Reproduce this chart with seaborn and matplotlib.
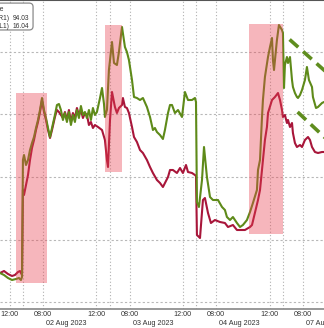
import numpy as np
import pandas as pd
import matplotlib
matplotlib.use("Agg")
import matplotlib.pyplot as plt
import seaborn as sns
from matplotlib.patches import Rectangle, FancyBboxPatch
from matplotlib import transforms

# ---------------- data (x = compressed session hours, y = index level) ----------------
green_hours = [4.78, 5.08, 5.38, 5.68, 5.98, 6.20, 6.35, 6.43, 6.50, 6.58, 6.73, 6.88, 7.03, 7.18, 7.33,
               7.48, 7.63, 7.78, 7.93, 8.08, 8.23, 8.38, 8.53, 8.68, 8.90, 9.05, 9.20, 9.35, 9.50, 9.65,
               9.80, 9.95, 10.10, 10.25, 10.40, 10.55, 10.70, 10.85, 11.00, 11.15, 11.30, 11.45, 11.60,
               11.75, 11.90, 12.05, 12.28, 12.43, 12.58, 12.65, 12.80, 12.95, 13.18, 13.33, 13.55, 13.70,
               13.93, 14.15, 14.30, 14.45, 14.68, 14.83, 15.05, 15.28, 15.50, 15.80, 16.03, 16.25, 16.40,
               16.55, 16.78, 17.00, 17.15, 17.38, 17.53, 17.68, 17.90, 18.13, 18.43, 18.65, 18.88, 19.18,
               19.40, 19.48, 19.55, 19.70, 19.93, 20.08, 20.30, 20.53, 20.75, 21.13, 21.43, 21.65, 21.80,
               22.03, 22.25, 22.55, 22.78, 23.00, 23.30, 23.53, 23.75, 24.05, 24.13, 24.28, 24.43, 24.50,
               24.65, 24.88, 25.03, 25.18, 25.25, 25.33, 25.55, 25.70, 25.93, 26.00, 26.08, 26.15, 26.30,
               26.38, 26.53, 26.68, 26.75, 26.90, 27.05, 27.13, 27.28, 27.43, 27.65, 27.80, 27.95, 28.18,
               28.25, 28.48, 28.63, 28.93, 29.08]
green_vals = [11.6, 10.8, 9.6, 8.8, 9.2, 9.6, 8.8, 10.0, 56.8, 58.8, 54.8, 56.8, 60.8, 63.6, 66.0,
              69.6, 72.8, 76.8, 81.6, 76.8, 73.6, 69.6, 66.0, 69.6, 74.8, 78.8, 79.2, 76.8, 72.8, 75.6,
              72.0, 76.0, 70.8, 74.8, 72.0, 76.8, 73.6, 78.4, 74.8, 76.0, 73.6, 76.8, 72.8,
              77.6, 74.8, 76.0, 81.6, 85.6, 79.2, 74.0, 76.8, 92.8, 104.0, 95.6, 94.8, 100.0,
              110.0, 102.0, 100.0, 96.8, 88.8, 82.0, 81.6, 80.8, 81.6, 78.0, 74.0, 68.8, 69.6,
              68.0, 66.8, 65.2, 68.8, 75.6, 78.8, 78.8, 75.6, 76.8, 74.0, 84.0, 80.8, 80.8,
              81.6, 80.0, 40.0, 38.0, 48.8, 62.0, 50.0, 42.0, 40.8, 40.8, 38.0, 36.8, 34.0,
              32.8, 34.0, 31.6, 30.0, 30.8, 32.8, 36.0, 39.6, 44.8, 52.8, 56.8, 74.0, 80.8,
              90.0, 98.0, 102.0, 105.6, 96.8, 92.8, 104.8, 110.8, 108.8, 107.6, 85.6, 94.8, 98.0,
              95.6, 98.0, 88.8, 86.0, 83.6, 82.0, 81.6, 82.8, 84.8, 88.8, 94.0, 88.8, 86.0,
              82.0, 77.6, 78.0, 79.6, 80.0]

red_hours = [4.78, 5.08, 5.38, 5.68, 5.90, 6.13, 6.28, 6.43, 6.50, 6.58, 6.73, 6.88, 7.03, 7.18, 7.33,
             7.48, 7.63, 7.78, 7.93, 8.08, 8.23, 8.38, 8.53, 8.68, 8.90, 9.05, 9.20, 9.35, 9.50, 9.65,
             9.80, 9.95, 10.10, 10.25, 10.40, 10.55, 10.70, 10.85, 11.00, 11.15, 11.30, 11.45, 11.60,
             11.75, 11.90, 12.13, 12.43, 12.65, 12.80, 12.88, 13.03, 13.18, 13.40, 13.55, 13.70, 13.93,
             14.00, 14.15, 14.30, 14.45, 14.68, 14.83, 15.05, 15.28, 15.50, 15.80, 16.03, 16.25, 16.55,
             16.78, 17.00, 17.15, 17.38, 17.53, 17.75, 18.05, 18.28, 18.50, 18.73, 18.88, 19.18, 19.40,
             19.48, 19.55, 19.78, 20.00, 20.15, 20.38, 20.60, 20.90, 21.28, 21.65, 21.88, 22.25, 22.55,
             22.78, 23.15, 23.53, 23.68, 23.90, 24.13, 24.28, 24.50, 24.65, 24.80, 24.88, 25.18, 25.40,
             25.63, 25.78, 25.93, 26.00, 26.15, 26.30, 26.38, 26.53, 26.68, 26.75, 26.90, 27.05, 27.28,
             27.43, 27.65, 27.88, 28.03, 28.18, 28.40, 28.63, 28.93, 29.08]
red_vals = [11.6, 12.4, 11.2, 10.4, 10.8, 12.0, 12.4, 10.8, 44.8, 42.8, 46.8, 50.8, 56.8, 61.6, 64.8,
            68.8, 72.0, 76.0, 80.8, 76.0, 72.8, 68.8, 65.6, 68.8, 74.0, 76.8, 76.0, 74.8, 73.6, 76.0,
            72.8, 76.8, 72.0, 75.6, 73.6, 77.6, 74.8, 76.8, 73.6, 75.6, 74.8, 70.8, 72.0,
            69.6, 70.8, 70.0, 68.8, 64.8, 56.8, 54.0, 72.8, 84.0, 78.0, 75.6, 77.6, 78.8,
            81.6, 78.0, 77.6, 75.6, 70.0, 66.0, 64.0, 60.8, 59.6, 56.8, 54.0, 51.6, 48.8,
            47.6, 46.0, 47.6, 50.0, 52.8, 52.8, 51.6, 53.6, 51.6, 54.8, 52.0, 51.6, 50.8,
            50.4, 26.8, 25.6, 40.8, 41.6, 35.6, 31.6, 32.8, 32.0, 31.6, 30.0, 30.8, 28.8,
            28.8, 28.8, 30.0, 30.8, 35.6, 40.8, 44.8, 56.8, 64.8, 70.0, 75.6, 80.8, 82.0,
            83.6, 80.8, 76.8, 74.0, 74.8, 71.6, 72.8, 70.0, 71.6, 67.6, 63.6, 62.0, 62.8,
            62.0, 64.8, 66.0, 64.8, 62.0, 60.0, 59.6, 60.0, 60.0]

series_names = ["Index (R1)", "Index (L1)"]
last_values = ["94.03", "16.04"]
legend_title = "Last Price"

hour_ticks = [5.5, 8, 12, 14.5, 18.5, 21, 25, 27.5]
hour_labels = ["12:00", "08:00", "12:00", "08:00", "12:00", "08:00", "12:00", "08:00"]
day_starts = [6.5, 13, 19.5, 26]
day_labels = ["02 Aug 2023", "03 Aug 2023", "04 Aug 2023", "07 Aug 2023"]
grid_levels = [0, 25, 50, 75, 100]

# highlighted windows: (x0, x1, y0, y1)
highlight_boxes = [(5.98, 8.30, 7.6, 83.6), (12.65, 13.93, 52.0, 110.8), (23.45, 26.0, 27.2, 111.2)]
# dashed channel lines: ((x0, y0), (x1, y1))
trend_lines = [((26.5, 105.0), (30.0, 88.4)), ((27.1, 76.0), (30.0, 61.5))]

# ---------------- figure ----------------
sns.set_style("white")
plt.rcParams["font.family"] = ["Liberation Sans", "DejaVu Sans"]

GREEN = "#5e8a19"
RED = "#a8163a"
PINK = "#e8414f"
TXT = "#333333"

fig = plt.figure(figsize=(3.24, 3.28), dpi=100)
ax = fig.add_axes([0, 19 / 328, 1, 309 / 328])

df = pd.concat([
    pd.DataFrame({"hours": red_hours, "value": red_vals, "series": series_names[1]}),
    pd.DataFrame({"hours": green_hours, "value": green_vals, "series": series_names[0]}),
], ignore_index=True)

sns.lineplot(data=df, x="hours", y="value", hue="series",
             palette={series_names[0]: GREEN, series_names[1]: RED},
             estimator=None, sort=False, linewidth=1.5, legend=False, ax=ax, zorder=3)

for (x0, x1, y0, y1) in highlight_boxes:
    ax.add_patch(Rectangle((x0, y0), x1 - x0, y1 - y0, facecolor=PINK, alpha=0.38,
                           edgecolor="none", zorder=4))

for (p0, p1) in trend_lines:
    ax.plot([p0[0], p1[0]], [p0[1], p1[1]], color="#5f8d1e", lw=2.6,
            dashes=(3.2, 1.8), zorder=5, solid_capstyle="butt")

# grid
for lv in grid_levels:
    ax.axhline(lv, color="#b8b8b8", lw=0.8, ls=(0, (2, 2)), zorder=1)
for xv in hour_ticks + day_starts:
    ax.axvline(xv, color="#b0b0b0", lw=0.8, ls=(0, (1, 2)), zorder=1)

ax.set_xlim(4.78, 29.08)
ax.set_ylim(-2.8, 120.8)
ax.set_xlabel("")
ax.set_ylabel("")
ax.set_yticks([])

ax.set_xticks(day_starts)
ax.set_xticklabels([""] * len(day_starts))
ax.set_xticks(hour_ticks, minor=True)
ax.set_xticklabels(hour_labels, minor=True)
ax.tick_params(axis="x", which="major", length=14, width=1.0, color="#777777", direction="out")
ax.tick_params(axis="x", which="minor", length=0, pad=1.5, labelsize=5.2, labelcolor=TXT)

trans = transforms.blended_transform_factory(ax.transData, ax.transAxes)
for ds, lab in zip(day_starts, day_labels):
    ax.text(ds + 3.25, -0.046, lab, transform=trans, ha="center", va="center",
            fontsize=5.2, color=TXT, clip_on=False)

for s in ["left", "right"]:
    ax.spines[s].set_visible(False)
ax.spines["bottom"].set_color("#888888")
ax.spines["bottom"].set_linewidth(1.2)
ax.spines["top"].set_color("#555555")
ax.spines["top"].set_linewidth(1.5)

# legend box (partially outside left edge)
box = FancyBboxPatch((-0.12, 0.903), 0.222, 0.087, boxstyle="round,pad=0,rounding_size=0.012",
                     transform=ax.transAxes, facecolor="white", edgecolor="#8a8a8a", lw=0.9,
                     zorder=6, clip_on=False)
ax.add_patch(box)
ax.text(0.011, 0.968, legend_title, transform=ax.transAxes, ha="right", va="center",
        fontsize=4.8, color=TXT, zorder=7)
for yy, nm, val in zip([0.939, 0.913], series_names, last_values):
    ax.text(0.028, yy, nm, transform=ax.transAxes, ha="right", va="center",
            fontsize=4.8, color=TXT, zorder=7)
    ax.text(0.09, yy, val, transform=ax.transAxes, ha="right", va="center",
            fontsize=4.8, color=TXT, zorder=7)

fig.savefig("out.png", dpi=100, facecolor="white")
